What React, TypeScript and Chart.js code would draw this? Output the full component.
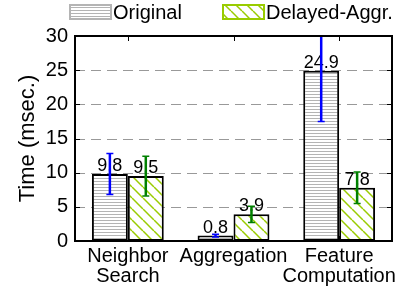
import React, { useEffect, useRef } from 'react';
import { Chart, registerables } from 'chart.js';

Chart.register(...registerables);

const categories: (string | string[])[] = [['Neighbor', 'Search'], 'Aggregation', ['Feature', 'Computation']];
const seriesNames = ['Original', 'Delayed-Aggr.'];
const originalValues = [9.8, 0.8, 24.9];
const delayedValues = [9.5, 3.9, 7.8];
const originalErrors = [3.0, 0.2, 7.4];
const delayedErrors = [2.9, 1.2, 2.3];
const yTicks = [0, 5, 10, 15, 20, 25, 30];
const yTitle = 'Time (msec.)';

const FONT = '"Liberation Sans", Arial, sans-serif';
const GREEN_HATCH = '#99cc00';
const GRAY_HATCH = '#b4b4b4';

function makeHorizontalPattern(ctx: CanvasRenderingContext2D) {
  const c = document.createElement('canvas');
  c.width = 8;
  c.height = 3;
  const g = c.getContext('2d')!;
  g.fillStyle = '#ffffff';
  g.fillRect(0, 0, 8, 3);
  g.fillStyle = GRAY_HATCH;
  g.fillRect(0, 1, 8, 1);
  return ctx.createPattern(c, 'repeat')!;
}

function makeDiagonalPattern(ctx: CanvasRenderingContext2D) {
  const s = 11;
  const c = document.createElement('canvas');
  c.width = s;
  c.height = s;
  const g = c.getContext('2d')!;
  g.fillStyle = '#ffffff';
  g.fillRect(0, 0, s, s);
  g.strokeStyle = GREEN_HATCH;
  g.lineWidth = 1.5;
  for (const o of [-s, 0, s]) {
    g.beginPath();
    g.moveTo(o, 0);
    g.lineTo(o + s, s);
    g.stroke();
  }
  return ctx.createPattern(c, 'repeat')!;
}

export default function App() {
  const ref = useRef<HTMLCanvasElement | null>(null);

  useEffect(() => {
    document.body.style.margin = '0';
    const canvas = ref.current!;
    const ctx = canvas.getContext('2d')!;
    const hPat = makeHorizontalPattern(ctx);
    const dPat = makeDiagonalPattern(ctx);
    const errors = [originalErrors, delayedErrors];
    const errColors = ['#0000ff', '#008000'];

    const customPlugin = {
      id: 'customDecor',
      beforeDatasetsDraw(chart: any) {
        const { ctx: c, chartArea: a, scales } = chart;
        const y = scales.y;
        c.save();
        c.strokeStyle = '#999999';
        c.lineWidth = 1;
        c.setLineDash([10, 6]);
        for (const v of yTicks) {
          if (v === yTicks[0] || v === yTicks[yTicks.length - 1]) continue;
          const py = Math.round(y.getPixelForValue(v)) + 0.5;
          c.beginPath();
          c.moveTo(a.left, py);
          c.lineTo(a.right, py);
          c.stroke();
        }
        c.restore();
      },
      afterDatasetsDraw(chart: any) {
        const { ctx: c, chartArea: a, scales } = chart;
        const y = scales.y;
        const x = scales.x;
        c.save();
        // value labels
        c.fillStyle = '#000';
        c.font = `18px ${FONT}`;
        c.textAlign = 'center';
        c.textBaseline = 'alphabetic';
        chart.data.datasets.forEach((ds: any, i: number) => {
          const meta = chart.getDatasetMeta(i);
          meta.data.forEach((bar: any, j: number) => {
            c.fillText(String(ds.data[j]), bar.x, bar.y - 3);
          });
        });
        // error bars
        c.save();
        c.beginPath();
        c.rect(a.left, a.top, a.width, a.height);
        c.clip();
        chart.data.datasets.forEach((ds: any, i: number) => {
          const meta = chart.getDatasetMeta(i);
          meta.data.forEach((bar: any, j: number) => {
            const v = ds.data[j];
            const e = errors[i][j];
            const top = y.getPixelForValue(v + e);
            const bot = y.getPixelForValue(v - e);
            c.strokeStyle = errColors[i];
            c.lineWidth = 2.5;
            c.beginPath();
            c.moveTo(bar.x, top);
            c.lineTo(bar.x, bot);
            c.stroke();
            c.lineWidth = 1.5;
            c.beginPath();
            c.moveTo(bar.x - 3.5, top);
            c.lineTo(bar.x + 3.5, top);
            c.moveTo(bar.x - 3.5, bot);
            c.lineTo(bar.x + 3.5, bot);
            c.stroke();
          });
        });
        c.restore();
        // frame
        c.strokeStyle = '#000';
        c.lineWidth = 2;
        c.strokeRect(a.left, a.top, a.width, a.height);
        c.lineWidth = 1;
        c.beginPath();
        for (const v of yTicks) {
          const py = Math.round(y.getPixelForValue(v)) + 0.5;
          c.moveTo(a.left, py);
          c.lineTo(a.left + 5, py);
          c.moveTo(a.right, py);
          c.lineTo(a.right - 5, py);
        }
        for (let k = 0; k < categories.length; k++) {
          const px = Math.round(x.getPixelForValue(k)) + 0.5;
          c.moveTo(px, a.top);
          c.lineTo(px, a.top + 5);
          c.moveTo(px, a.bottom);
          c.lineTo(px, a.bottom - 5);
        }
        c.stroke();
        c.restore();
      },
      afterDraw(chart: any) {
        const c = chart.ctx;
        c.save();
        // legend item 1
        const bx1 = 70, by = 5, bw = 41, bh = 14;
        c.fillStyle = hPat;
        c.fillRect(bx1, by, bw, bh);
        c.strokeStyle = GRAY_HATCH;
        c.lineWidth = 2;
        c.strokeRect(bx1, by, bw, bh);
        const bx2 = 223;
        c.fillStyle = dPat;
        c.fillRect(bx2, by, bw, bh);
        c.strokeStyle = GREEN_HATCH;
        c.lineWidth = 2;
        c.strokeRect(bx2, by, bw, bh);
        c.fillStyle = '#000';
        c.font = `20px ${FONT}`;
        c.textAlign = 'left';
        c.textBaseline = 'alphabetic';
        c.fillText(seriesNames[0], 113, 19);
        c.fillText(seriesNames[1], 266, 19);
        c.restore();
      },
    };

    const chart = new Chart(canvas, {
      type: 'bar',
      data: {
        labels: categories as any,
        datasets: [
          {
            label: seriesNames[0],
            data: originalValues,
            backgroundColor: hPat as any,
            borderColor: '#000',
            borderWidth: 2,
            borderSkipped: false,
          },
          {
            label: seriesNames[1],
            data: delayedValues,
            backgroundColor: dPat as any,
            borderColor: '#000',
            borderWidth: 2,
            borderSkipped: false,
          },
        ],
      },
      options: {
        responsive: false,
        animation: false,
        events: [],
        layout: { padding: { left: 0, right: 21, top: 36, bottom: 0 } },
        datasets: { bar: { categoryPercentage: 0.68, barPercentage: 1.0 } },
        plugins: {
          legend: { display: false },
          tooltip: { enabled: false },
        },
        scales: {
          x: {
            grid: { display: false, drawTicks: false },
            border: { display: false },
            ticks: {
              color: '#000',
              font: { family: FONT, size: 20, lineHeight: 1 },
              padding: 5,
              maxRotation: 0,
              autoSkip: false,
            },
            afterFit: (s: any) => {
              s.height = 51;
            },
          },
          y: {
            min: 0,
            max: 30,
            grid: { display: false, drawTicks: false },
            border: { display: false },
            ticks: {
              stepSize: 5,
              color: '#000',
              font: { family: FONT, size: 20 },
              padding: 7,
            },
            title: {
              display: true,
              text: yTitle,
              color: '#000',
              font: { family: FONT, size: 22, lineHeight: 1.2 },
              padding: { top: 15, bottom: 0 },
            },
            afterFit: (s: any) => {
              s.width = 75;
            },
          },
        },
      },
      plugins: [customPlugin],
    });
    return () => chart.destroy();
  }, []);

  return (
    <div style={{ width: 413, height: 292 }}>
      <canvas ref={ref} width={413} height={292} style={{ display: 'block' }} />
    </div>
  );
}
